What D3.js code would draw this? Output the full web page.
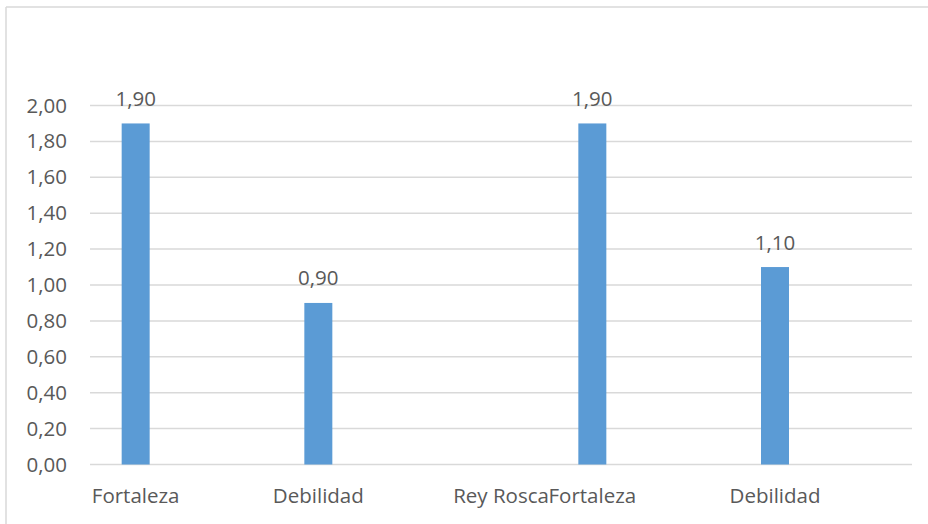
<!DOCTYPE html>
<html>
<head>
<meta charset="utf-8">
<script src="https://cdn.jsdelivr.net/npm/d3@7"></script>
<style>
  html, body { margin: 0; padding: 0; background: #fff; }
  svg { display: block; }
  text { font-family: "Open Sans", Lato, sans-serif; fill: #595959; }
</style>
</head>
<body>
<svg id="chart" width="928" height="524"></svg>
<script>
// Category slots along the x axis (blank slots keep the spacing of the original sheet)
const categories = ["Fortaleza", "", "Debilidad", "", "Rey Rosca", "Fortaleza", "", "Debilidad", ""];
const values = [1.90, null, 0.90, null, null, 1.90, null, 1.10, null];
const yTicks = [0, 0.2, 0.4, 0.6, 0.8, 1.0, 1.2, 1.4, 1.6, 1.8, 2.0];

const fmt = v => d3.format(".2f")(v).replace(".", ",");
const FONT = "'Open Sans', Lato, sans-serif";
const FS = 20.5;

const svg = d3.select("#chart");
const W = 928, H = 524;
const margin = { left: 90, right: 16, top: 105.5, bottom: 59.5 };

// Outer chart frame (left and top edges visible)
svg.append("line").attr("x1", 6).attr("x2", 6).attr("y1", 7).attr("y2", H)
  .attr("stroke", "#d9d9d9").attr("stroke-width", 1.5);
svg.append("line").attr("x1", 6).attr("x2", W).attr("y1", 7).attr("y2", 7)
  .attr("stroke", "#d9d9d9").attr("stroke-width", 1.5);

const x = d3.scaleBand()
  .domain(d3.range(categories.length))
  .range([margin.left, W - margin.right])
  .paddingInner(0).paddingOuter(0);

const y = d3.scaleLinear().domain([0, 2]).range([H - margin.bottom, margin.top]);

// Horizontal gridlines
svg.append("g").selectAll("line").data(yTicks).join("line")
  .attr("x1", margin.left).attr("x2", W - margin.right)
  .attr("y1", d => y(d)).attr("y2", d => y(d))
  .attr("stroke", "#d9d9d9").attr("stroke-width", 1.5);

// Y axis labels
const yAxis = d3.axisLeft(y).tickValues(yTicks).tickFormat(fmt).tickSize(0).tickPadding(0);
const gy = svg.append("g").attr("transform", `translate(67,0)`).call(yAxis);
gy.select(".domain").remove();
gy.selectAll("text").attr("font-size", FS).style("font-family", FONT).attr("fill", "#595959");

// X axis labels
const xAxis = d3.axisBottom(x).tickFormat(i => categories[i]).tickSize(0).tickPadding(0);
const gx = svg.append("g").attr("transform", `translate(0,${y(0)})`).call(xAxis);
gx.select(".domain").remove();
gx.selectAll("text").attr("font-size", FS).attr("dy", null).attr("y", 38.5)
  .style("font-family", FONT).attr("fill", "#595959");

// Bars
const barW = 28;
const data = values.map((v, i) => ({ i, v })).filter(d => d.v != null);
svg.append("g").selectAll("rect").data(data).join("rect")
  .attr("x", d => x(d.i) + x.bandwidth() / 2 - barW / 2)
  .attr("width", barW)
  .attr("y", d => y(d.v))
  .attr("height", d => y(0) - y(d.v))
  .attr("fill", "#5b9bd5");

// Value labels
svg.append("g").selectAll("text").data(data).join("text")
  .attr("x", d => x(d.i) + x.bandwidth() / 2)
  .attr("y", d => y(d.v) - 17.5)
  .attr("text-anchor", "middle")
  .attr("font-size", FS)
  .text(d => fmt(d.v));
</script>
</body>
</html>
